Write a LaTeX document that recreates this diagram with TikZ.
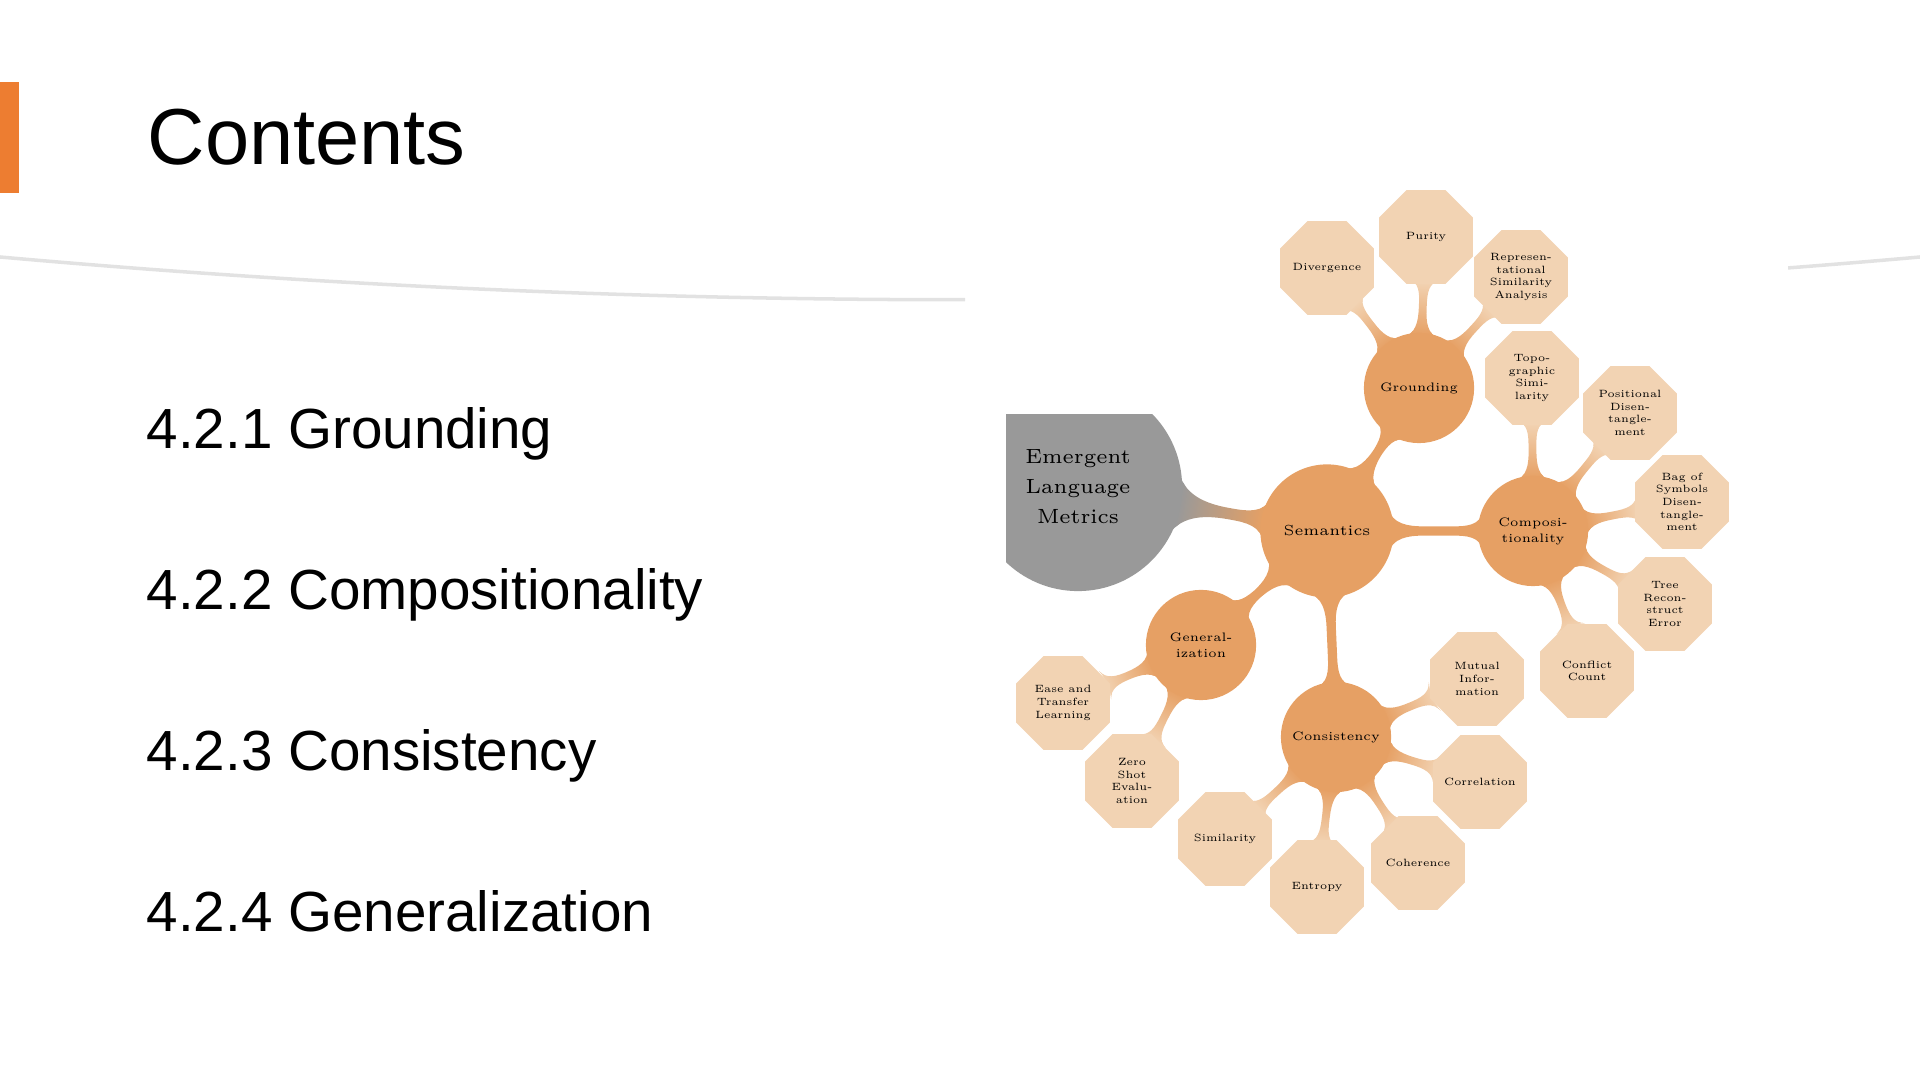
\documentclass[tikz,border=0pt]{standalone}
\usepackage{fontspec}
\setsansfont{Liberation Sans}
\usetikzlibrary{mindmap,shapes.geometric,backgrounds}

\definecolor{accentorange}{RGB}{237,125,49}
\definecolor{conceptorange}{RGB}{230,160,100}
\definecolor{metricpeach}{RGB}{242,211,179}
\definecolor{rootgray}{RGB}{153,153,153}
\definecolor{swooshgray}{RGB}{226,226,226}

\begin{document}
\begin{tikzpicture}[
  heading/.style={font=\sffamily\fontsize{22.6}{26}\selectfont,anchor=base west,inner sep=0pt},
  toc/.style={font=\sffamily\fontsize{16.1}{19}\selectfont,anchor=base west,inner sep=0pt}]
\useasboundingbox (0,0) rectangle (19.2,10.8);
% slide frame
\fill [accentorange] (0,8.87) rectangle (0.19,9.98);
\begin{scope}
\clip (0,0) rectangle (9.65,10.8) (17.88,0) rectangle (19.2,10.8);
\draw [swooshgray,line width=1pt] (0,8.23) .. controls (6.4,7.66) and (12.8,7.66) .. (19.2,8.23);
\end{scope}
\node [heading] (title) at (1.47,9.15) {Contents};
\node [toc] (toc1) at (1.46,6.31) {4.2.1 Grounding};
\node [toc] (toc2) at (1.46,4.70) {4.2.2 Compositionality};
\node [toc] (toc3) at (1.46,3.09) {4.2.3 Consistency};
\node [toc] (toc4) at (1.46,1.48) {4.2.4 Generalization};
% mind map
\begin{scope}[mindmap,
  every node/.style={concept,text=black,inner sep=0pt,align=center,text width=},
  rootconcept/.style={concept color=rootgray,fill=rootgray,inner sep=0pt,minimum size=2.04cm,font=\fontsize{5.85}{8.5}\selectfont},
  hub/.style={concept color=conceptorange,fill=conceptorange,inner sep=0pt,minimum size=1.29cm,font=\fontsize{4.15}{5.3}\selectfont},
  branch/.style={concept color=conceptorange,fill=conceptorange,inner sep=0pt,minimum size=1.06cm,font=\fontsize{3.5}{4.55}\selectfont},
  metriclabel/.style={shape=rectangle,fill=none,draw=none,minimum size=0pt,inner sep=0pt,text width=,align=center,text=black,font=\fontsize{3.0}{3.6}\selectfont},
  metric/.style={concept color=metricpeach,fill=metricpeach,shape=regular polygon,regular polygon sides=8,inner sep=0pt,minimum size=0.97cm,label={[metriclabel]center:#1}}]
\begin{scope}
\clip (10.06,0) rectangle (19.2,6.65);
\node [rootconcept] (elm) at (10.78,5.93) {Emergent\\Language\\Metrics};
\end{scope}
\node [hub] (sem) at (13.27,5.49) {Semantics};
\node [branch] (grd) at (14.19,6.92) {Grounding};
\node [branch] (cmp) at (15.33,5.49) {Composi-\\tionality};
\node [branch] (cns) at (13.36,3.43) {Consistency};
\node [branch] (gen) at (12.01,4.35) {General-\\ization};
% grounding metrics
\node [metric={Divergence}] (div) at (13.27,8.12) {};
\node [metric={Purity}] (pur) at (14.26,8.43) {};
\node [metric={Represen-\\tational\\Similarity\\Analysis}] (rsa) at (15.21,8.03) {};
% compositionality metrics
\node [metric={Topo-\\graphic\\Simi-\\larity}] (top) at (15.32,7.02) {};
\node [metric={Positional\\Disen-\\tangle-\\ment}] (pos) at (16.30,6.67) {};
\node [metric={Bag of\\Symbols\\Disen-\\tangle-\\ment}] (bos) at (16.82,5.78) {};
\node [metric={Tree\\Recon-\\struct\\Error}] (tre) at (16.65,4.76) {};
\node [metric={Conflict\\Count}] (con) at (15.87,4.09) {};
% consistency metrics
\node [metric={Mutual\\Infor-\\mation}] (mut) at (14.77,4.01) {};
\node [metric={Correlation}] (cor) at (14.80,2.98) {};
\node [metric={Coherence}] (coh) at (14.18,2.17) {};
\node [metric={Entropy}] (ent) at (13.17,1.93) {};
\node [metric={Similarity}] (sim) at (12.25,2.41) {};
% generalization metrics
\node [metric={Zero\\Shot\\Evalu-\\ation}] (zse) at (11.32,2.99) {};
\node [metric={Ease and\\Transfer\\Learning}] (etl) at (10.63,3.77) {};
\begin{pgfonlayer}{background}
\path (elm) to [circle connection bar switch color=from (rootgray) to (conceptorange)] (sem);
\foreach \from/\to in {sem/grd,sem/cmp,sem/cns,sem/gen}
  \path (\from) to [circle connection bar switch color=from (conceptorange) to (conceptorange)] (\to);
\foreach \from/\to in {grd/div,grd/pur,grd/rsa,cmp/top,cmp/pos,cmp/bos,cmp/tre,cmp/con,
    cns/mut,cns/cor,cns/coh,cns/ent,cns/sim,gen/zse,gen/etl}
  \path (\from) to [circle connection bar switch color=from (conceptorange) to (metricpeach)] (\to);
\end{pgfonlayer}
\end{scope}
\end{tikzpicture}
\end{document}
